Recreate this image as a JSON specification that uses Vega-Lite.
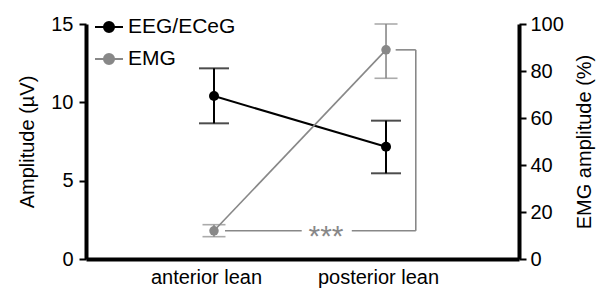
{
  "$schema": "https://vega.github.io/schema/vega-lite/v6.json",
  "width": 433,
  "height": 235,
  "autosize": {"type": "none"},
  "padding": {"left": 86, "top": 24, "right": 85, "bottom": 33},
  "background": "white",
  "config": {
    "font": "Liberation Sans",
    "view": {"stroke": null},
    "axis": {
      "grid": false,
      "domainColor": "black",
      "domainWidth": 4,
      "tickColor": "black",
      "tickWidth": 2,
      "tickSize": 7,
      "labelFontSize": 20,
      "labelColor": "black",
      "titleFontSize": 20,
      "titleFontWeight": "normal",
      "titleColor": "black"
    }
  },
  "datasets": {
    "eeg": [
      {"lean": "anterior lean", "pos": 1, "series": "EEG/ECeG", "mean": 10.4, "lo": 8.66, "hi": 12.17},
      {"lean": "posterior lean", "pos": 2, "series": "EEG/ECeG", "mean": 7.17, "lo": 5.47, "hi": 8.83}
    ],
    "emg": [
      {"lean": "anterior lean", "pos": 1, "series": "EMG", "mean": 12.0, "lo": 9.5, "hi": 14.6},
      {"lean": "posterior lean", "pos": 2, "series": "EMG", "mean": 89.0, "lo": 76.9, "hi": 100.0}
    ],
    "bracket": [
      {"pos": 1.064, "pos2": 1.51, "v": 12.0, "v2": 12.0},
      {"pos": 1.801, "pos2": 2.173, "v": 12.0, "v2": 12.0},
      {"pos": 2.173, "pos2": 2.173, "v": 12.0, "v2": 89.0},
      {"pos": 2.056, "pos2": 2.173, "v": 89.0, "v2": 89.0}
    ],
    "sig": [{"pos": 1.651, "v": 12.0, "label": "***"}]
  },
  "encoding": {
    "x": {
      "field": "pos",
      "type": "quantitative",
      "scale": {"domain": [0.256, 2.773], "nice": false, "zero": false},
      "axis": {
        "title": null,
        "values": [1, 2],
        "ticks": false,
        "labelPadding": 8,
        "labelOffset": -8,
        "labelExpr": "datum.value == 1 ? 'anterior lean' : 'posterior lean'"
      }
    }
  },
  "layer": [
    {
      "data": {"name": "eeg"},
      "encoding": {
        "y": {
          "field": "mean",
          "type": "quantitative",
          "scale": {"domain": [0, 15], "nice": false},
          "axis": {
            "orient": "left",
            "values": [0, 5, 10, 15],
            "title": "Amplitude (µV)",
            "labelPadding": 6,
            "titlePadding": 13
          }
        }
      },
      "layer": [
        {
          "mark": {"type": "line", "strokeWidth": 2},
          "encoding": {
            "color": {
              "field": "series",
              "type": "nominal",
              "scale": {"domain": ["EEG/ECeG", "EMG"], "range": ["#000000", "#888888"]},
              "legend": {
                "title": null,
                "orient": "none",
                "legendX": 8,
                "legendY": -12,
                "symbolType": "M-1,0H1M-0.36,0A0.36,0.36,0,1,1,0.36,0A0.36,0.36,0,1,1,-0.36,0Z",
                "symbolSize": 784,
                "symbolStrokeWidth": 2,
                "labelFontSize": 21,
                "labelColor": "black",
                "labelOffset": 4,
                "rowPadding": 7,
                "padding": 0,
                "encode": {
                  "symbols": {
                    "update": {
                      "fill": {"scale": "color", "field": "value"},
                      "stroke": {"scale": "color", "field": "value"},
                      "fillOpacity": {"value": 1}
                    }
                  }
                }
              }
            }
          }
        },
        {
          "mark": {"type": "errorbar", "orient": "vertical", "color": "#000000", "ticks": true, "thickness": 2, "size": 30},
          "encoding": {
            "y": {"field": "lo", "type": "quantitative"},
            "y2": {"field": "hi"}
          }
        },
        {
          "mark": {"type": "point", "filled": true, "opacity": 1, "size": 100, "color": "#000000"}
        }
      ]
    },
    {
      "encoding": {
        "y": {
          "type": "quantitative",
          "scale": {"domain": [0, 100], "nice": false},
          "axis": {
            "orient": "right",
            "values": [0, 20, 40, 60, 80, 100],
            "title": "EMG amplitude (%)",
            "titleAngle": 270,
            "labelPadding": 4,
            "titlePadding": 31
          }
        }
      },
      "layer": [
        {
          "data": {"name": "bracket"},
          "mark": {"type": "rule", "color": "#888888", "strokeWidth": 1.6},
          "encoding": {
            "x2": {"field": "pos2"},
            "y": {"field": "v"},
            "y2": {"field": "v2"}
          }
        },
        {
          "data": {"name": "sig"},
          "mark": {"type": "text", "color": "#888888", "fontSize": 30, "baseline": "middle", "dy": 6},
          "encoding": {
            "y": {"field": "v"},
            "text": {"field": "label"}
          }
        },
        {
          "data": {"name": "emg"},
          "mark": {"type": "line", "strokeWidth": 1.6},
          "encoding": {
            "y": {"field": "mean"},
            "color": {
              "field": "series",
              "type": "nominal",
              "scale": {"domain": ["EEG/ECeG", "EMG"], "range": ["#000000", "#888888"]},
              "legend": {
                "title": null,
                "orient": "none",
                "legendX": 8,
                "legendY": -12,
                "symbolType": "M-1,0H1M-0.36,0A0.36,0.36,0,1,1,0.36,0A0.36,0.36,0,1,1,-0.36,0Z",
                "symbolSize": 784,
                "symbolStrokeWidth": 2,
                "labelFontSize": 21,
                "labelColor": "black",
                "labelOffset": 4,
                "rowPadding": 7,
                "padding": 0,
                "encode": {
                  "symbols": {
                    "update": {
                      "fill": {"scale": "color", "field": "value"},
                      "stroke": {"scale": "color", "field": "value"},
                      "fillOpacity": {"value": 1}
                    }
                  }
                }
              }
            }
          }
        },
        {
          "data": {"name": "emg"},
          "mark": {"type": "errorbar", "orient": "vertical", "color": "#888888", "ticks": true, "thickness": 1.6, "size": 23},
          "encoding": {
            "y": {"field": "lo"},
            "y2": {"field": "hi"}
          }
        },
        {
          "data": {"name": "emg"},
          "mark": {"type": "point", "filled": true, "opacity": 1, "size": 90, "color": "#888888"},
          "encoding": {
            "y": {"field": "mean"}
          }
        }
      ]
    }
  ],
  "resolve": {"scale": {"y": "independent"}}
}
